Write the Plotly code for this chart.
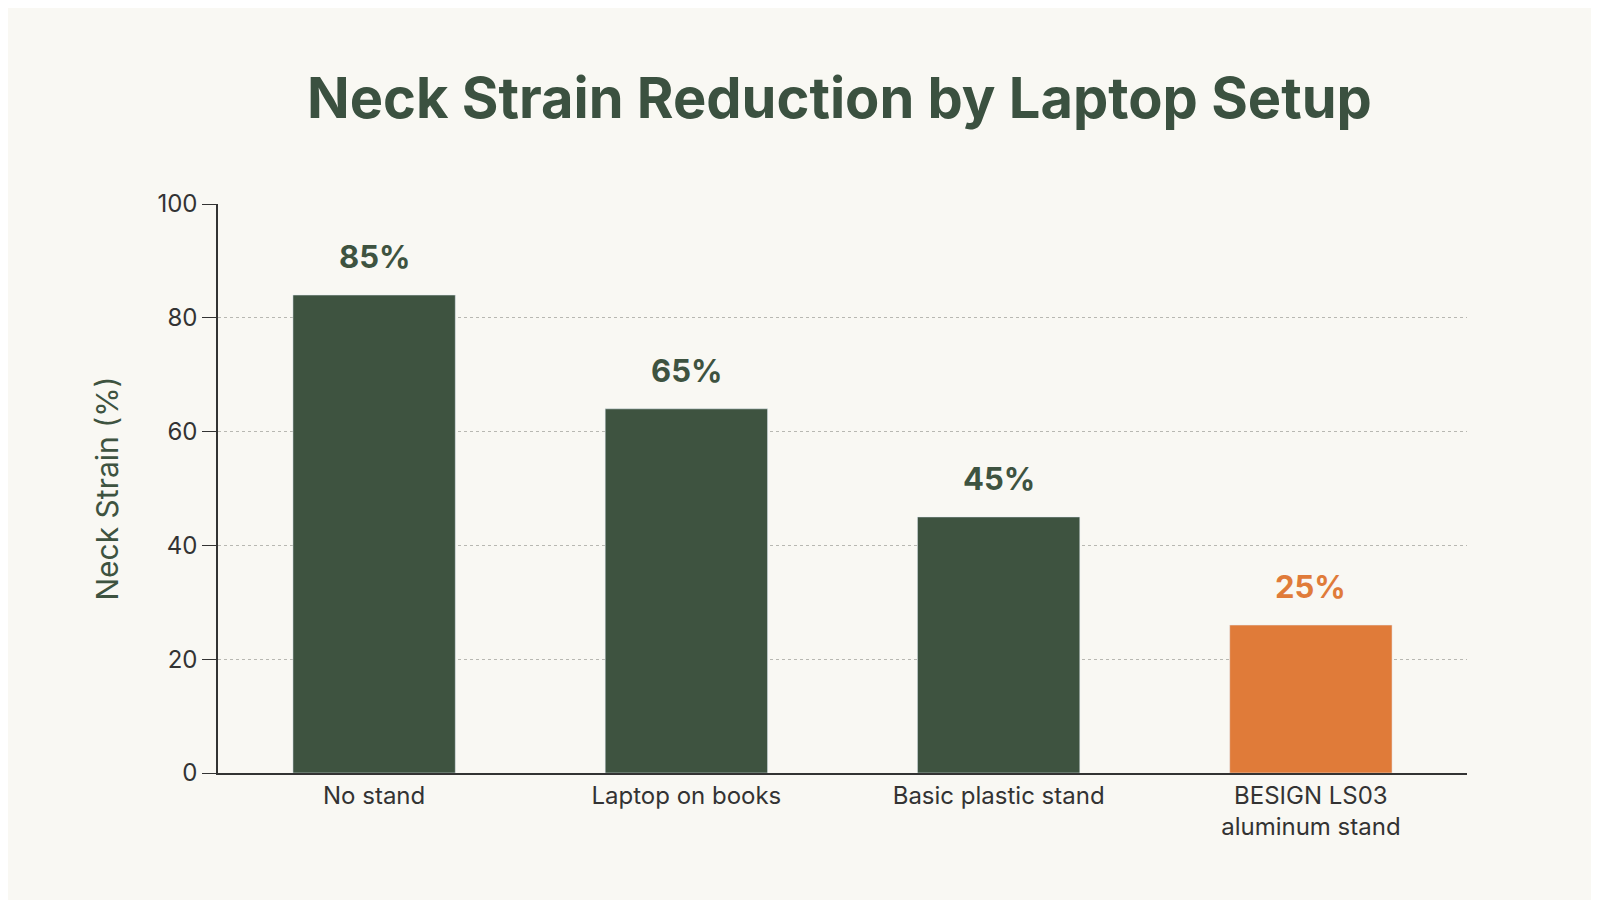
import plotly.graph_objects as go

categories = ["No stand", "Laptop on books", "Basic plastic stand", "BESIGN LS03<br>aluminum stand"]
values = [84, 64, 45, 26]
labels = ["85%", "65%", "45%", "25%"]
colors = ["#3e5340", "#3e5340", "#3e5340", "#e07b39"]
label_colors = ["#3e5340", "#3e5340", "#3e5340", "#e07b39"]

fig = go.Figure(go.Bar(x=categories, y=values, marker_color=colors, width=0.52))
for c, v, t, lc in zip(categories, values, labels, label_colors):
    fig.add_annotation(x=c, y=v, text="<b>" + t + "</b>", showarrow=False, yanchor="bottom",
                       yshift=18, font=dict(size=31, color=lc, family="Inter"))
fig.update_layout(
    width=1599, height=900,
    paper_bgcolor="#f9f8f3", plot_bgcolor="#f9f8f3",
    font=dict(family="Inter", color="#333"),
    title=dict(text="<b>Neck Strain Reduction by Laptop Setup</b>", x=0.52, xanchor="center",
               y=0.9, yanchor="middle", font=dict(size=56, color="#3b5140")),
    margin=dict(l=210, r=140, t=196, b=135),
    showlegend=False,
)
fig.update_yaxes(range=[0, 100], tickvals=[0, 20, 40, 60, 80, 100],
                 showline=True, linecolor="#333", linewidth=1.5,
                 ticks="outside", ticklen=14, tickcolor="#333",
                 tickfont=dict(size=24, color="#333"),
                 gridcolor="#b8b8b2", griddash="dot", zeroline=False,
                 title=dict(text="Neck Strain (%)", font=dict(size=30, color="#3e5340"), standoff=30))
fig.update_xaxes(showline=True, linecolor="#333", linewidth=1.5,
                 tickfont=dict(size=24, color="#333"))
fig.write_html("out.html")
